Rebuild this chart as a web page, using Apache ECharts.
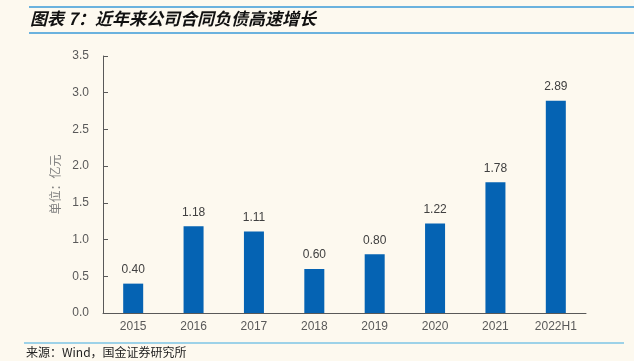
<!DOCTYPE html>
<html><head><meta charset="utf-8">
<script src="https://cdn.jsdelivr.net/npm/echarts@6/dist/echarts.min.js"></script>
<style>html,body{margin:0;padding:0;background:#fdf9ef;}#c{width:634px;height:361px;}</style>
</head><body><div id="c"></div>
<script>
const categories = ['2015','2016','2017','2018','2019','2020','2021','2022H1'];
const values = [0.40,1.18,1.11,0.60,0.80,1.22,1.78,2.89];
const yTicks = [0,0.5,1,1.5,2,2.5,3,3.5];
const titleText = '图表 7：近年来公司合同负债高速增长';
const sourceText = '来源：Wind，国金证券研究所';
const yName = '单位：亿元';

const chart = echarts.init(document.getElementById('c'));
chart.setOption({
  backgroundColor: '#fdf9ef',
  animation: false,
  graphic: [
    {type:'line', shape:{x1:29,y1:7,x2:634,y2:7}, style:{stroke:'#3a9ad9',lineWidth:1.5}},
    {type:'line', shape:{x1:29,y1:33,x2:634,y2:33}, style:{stroke:'#3a9ad9',lineWidth:1.5}},
    {type:'text', left:30, top:10, style:{text:titleText, font:'italic bold 17px "Noto Sans CJK SC"', fill:'#111'}},
    {type:'line', shape:{x1:24,y1:343,x2:624,y2:343}, style:{stroke:'#7cc4e6',lineWidth:1.5}},
    {type:'text', left:26, top:346, style:{text:sourceText, font:'12px "Noto Sans CJK SC"', fill:'#222'}}
  ],
  grid: {left:103, right:48, top:56, bottom:48, containLabel:false},
  xAxis: {
    type:'category', data:categories,
    axisLine:{lineStyle:{color:'#595959'}},
    axisTick:{inside:true, lineStyle:{color:'#595959'}},
    axisLabel:{color:'#595959', fontSize:12, fontFamily:'Liberation Sans', margin:8}
  },
  yAxis: {
    type:'value', min:0, max:3.5, interval:0.5,
    name:yName, nameLocation:'middle', nameGap:36,
    nameTextStyle:{color:'#7f7f7f', fontSize:12, fontFamily:'Noto Sans CJK SC'},
    axisLine:{show:true, lineStyle:{color:'#595959'}},
    axisTick:{show:true, inside:true, lineStyle:{color:'#595959'}},
    splitLine:{show:false},
    axisLabel:{color:'#595959', fontSize:12, fontFamily:'Liberation Sans', margin:14,
      formatter:v=>v.toFixed(1)}
  },
  series: [{
    type:'bar', data:values, barWidth:20,
    itemStyle:{color:'#0563b3'},
    label:{show:true, position:'top', distance:8, color:'#404040', fontSize:12, fontFamily:'Liberation Sans',
      formatter:p=>p.value.toFixed(2)}
  }]
});
</script></body></html>
